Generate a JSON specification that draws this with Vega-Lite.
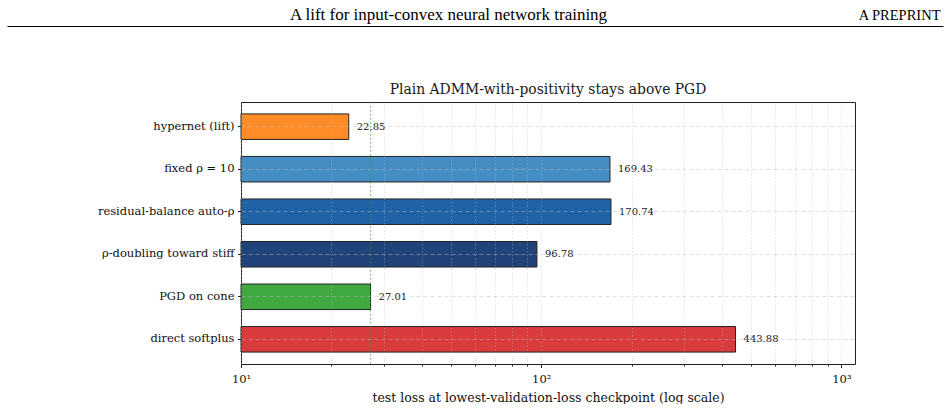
{
  "$schema": "https://vega.github.io/schema/vega-lite/v6.json",
  "autosize": {"type": "pad"},
  "padding": {"left": 6, "top": 5, "right": 0, "bottom": 0},
  "background": "white",
  "config": {
    "font": "DejaVu Serif",
    "view": {"stroke": "#222", "strokeWidth": 1}
  },
  "data": {
    "values": [
      {"method": "hypernet (lift)", "loss": 22.85},
      {"method": "fixed ρ = 10", "loss": 169.43},
      {"method": "residual-balance auto-ρ", "loss": 170.74},
      {"method": "ρ-doubling toward stiff", "loss": 96.78},
      {"method": "PGD on cone", "loss": 27.01},
      {"method": "direct softplus", "loss": 443.88}
    ]
  },
  "spacing": 55,
  "vconcat": [
    {
      "width": 702,
      "height": 0.01,
      "data": {"values": []},
      "view": {"stroke": null},
      "mark": {"type": "point", "opacity": 0},
      "encoding": {
        "x": {
          "field": "loss",
          "type": "quantitative",
          "scale": {"domain": [0, 1], "range": [-234, 702]},
          "axis": {
            "orient": "top",
            "domain": true,
            "domainColor": "#000",
            "domainWidth": 1.2,
            "ticks": false,
            "labels": false,
            "grid": false,
            "title": "A lift for input-convex neural network training",
            "titleFont": "Liberation Serif",
            "titleFontSize": 17,
            "titleFontWeight": "normal",
            "titleColor": "#000",
            "titleX": 207,
            "titleY": -7,
            "titleAlign": "center",
            "titleBaseline": "alphabetic"
          }
        },
        "y": {
          "field": "loss",
          "type": "quantitative",
          "scale": {"domain": [0, 1]},
          "axis": {
            "orient": "right",
            "domain": false,
            "ticks": false,
            "labels": false,
            "grid": false,
            "title": "A PREPRINT",
            "titleFont": "Liberation Serif",
            "titleFontSize": 14.5,
            "titleFontWeight": "normal",
            "titleColor": "#000",
            "titleAngle": 0,
            "titleX": -3,
            "titleY": -7,
            "titleAlign": "right",
            "titleBaseline": "alphabetic"
          }
        }
      }
    },
    {
      "width": 614,
      "height": 262,
      "title": {
        "text": "Plain ADMM-with-positivity stays above PGD",
        "fontSize": 13.9,
        "fontWeight": "normal",
        "color": "#1a1a1a",
        "anchor": "middle",
        "baseline": "bottom",
        "offset": -9
      },
      "layer": [
        {
          "mark": {"type": "bar", "fillOpacity": 0.9, "stroke": "#222", "strokeWidth": 1},
          "encoding": {
            "y": {
              "field": "method",
              "type": "nominal",
              "sort": null,
              "scale": {"paddingInner": 0.4, "paddingOuter": 0.28},
              "axis": {
                "title": null,
                "domain": false,
                "tickSize": 3.5,
                "tickColor": "#222",
                "labelPadding": 3.5,
                "labelFontSize": 11.5,
                "labelColor": "#111",
                "labelLimit": 300,
                "grid": true,
                "bandPosition": 0.5,
                "gridDash": [4, 3],
                "gridColor": "#bbbbbb",
                "gridOpacity": 0.6,
                "gridWidth": 0.8,
                "minExtent": 234,
                "maxExtent": 234,
                "zindex": 1
              }
            },
            "x": {
              "field": "loss",
              "type": "quantitative",
              "scale": {"type": "log", "domain": [10, 1109.7], "nice": false},
              "axis": {
                "values": [10, 20, 30, 40, 50, 60, 70, 80, 90, 100, 200, 300, 400, 500, 600, 700, 800, 900, 1000],
                "labelExpr": "datum.value === 10 ? '10¹' : datum.value === 100 ? '10²' : datum.value === 1000 ? '10³' : ''",
                "tickSize": {"condition": {"test": "datum.value === 10 || datum.value === 100 || datum.value === 1000", "value": 3.5}, "value": 2},
                "tickColor": "#222",
                "domain": false,
                "grid": true,
                "gridColor": "#bbbbbb",
                "gridOpacity": 0.5,
                "gridDash": [1.5, 2],
                "gridWidth": 0.8,
                "labelFontSize": 11.5,
                "labelColor": "#111",
                "labelPadding": 6,
                "labelFlush": false,
                "labelOverlap": false,
                "title": "test loss at lowest-validation-loss checkpoint  (log scale)",
                "titleFontSize": 12.5,
                "titleFontWeight": "normal",
                "titleColor": "#111",
                "titlePadding": 6,
                "zindex": 1
              }
            },
            "x2": {"datum": 10},
            "color": {
              "field": "method",
              "type": "nominal",
              "sort": null,
              "scale": {
                "domain": ["hypernet (lift)", "fixed ρ = 10", "residual-balance auto-ρ", "ρ-doubling toward stiff", "PGD on cone", "direct softplus"],
                "range": ["#ff7f0e", "#3182bd", "#08519c", "#08306b", "#2ca02c", "#d62728"]
              },
              "legend": null
            }
          }
        },
        {
          "mark": {"type": "text", "align": "left", "baseline": "middle", "dx": 8, "fontSize": 10, "color": "#111"},
          "encoding": {
            "y": {"field": "method", "type": "nominal", "sort": null},
            "x": {"field": "loss", "type": "quantitative"},
            "text": {"field": "loss", "type": "quantitative", "format": ".2f"}
          }
        },
        {
          "transform": [{"filter": "datum.method === 'PGD on cone'"}],
          "mark": {"type": "rule", "color": "#2ca02c", "strokeDash": [1.5, 2.5], "strokeWidth": 1.2, "opacity": 0.7},
          "encoding": {
            "x": {"field": "loss", "type": "quantitative"}
          }
        }
      ]
    }
  ]
}
